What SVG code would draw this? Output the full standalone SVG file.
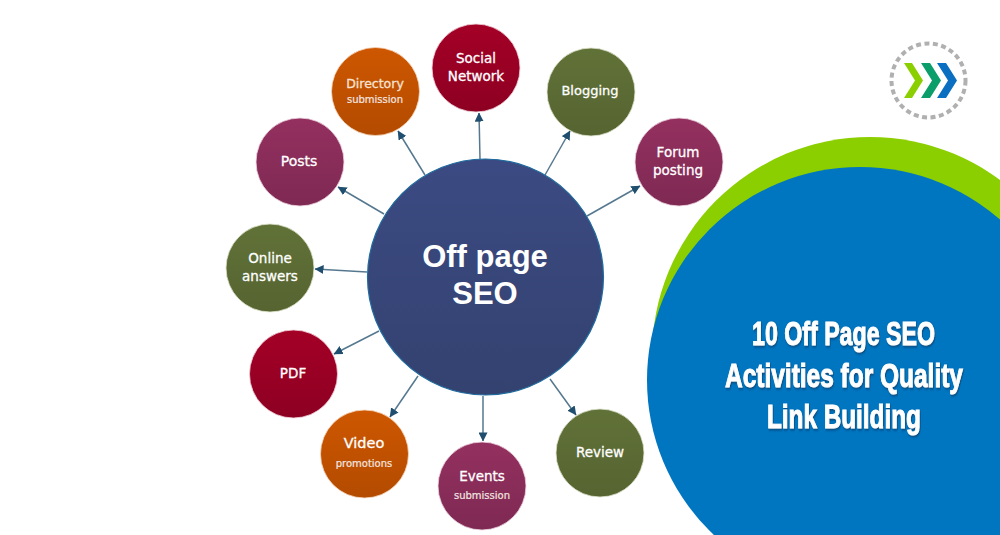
<svg xmlns="http://www.w3.org/2000/svg" width="1000" height="535" viewBox="0 0 1000 535">
<style>
.n{stroke-width:.8}
.l{font-family:"DejaVu Sans","Open Sans",sans-serif;font-weight:400;fill:#fff;stroke:#fff;stroke-width:.3;text-anchor:middle;font-size:13.5px}
.s{font-size:10px;fill:#f3e6e0;stroke:#f3e6e0;stroke-width:.2}
.c{stroke:#55788f;stroke-width:1.5;fill:none;marker-end:url(#a)}
.t{font-family:"Liberation Sans",sans-serif;font-weight:700;fill:#fff;stroke:#fff;stroke-width:1;font-size:34px;filter:url(#sh)}
</style>
<defs>
<marker id="a" viewBox="0 0 10 10" refX="9.5" refY="5" markerWidth="9" markerHeight="9" markerUnits="userSpaceOnUse" orient="auto"><path d="M0 0L10 5L0 10Z" fill="#1f4e6e"/></marker>
<linearGradient id="gr" x1="0" y1="0" x2="0" y2="1"><stop offset="0" stop-color="#a40026"/><stop offset="1" stop-color="#8d0022"/></linearGradient>
<linearGradient id="go" x1="0" y1="0" x2="0" y2="1"><stop offset="0" stop-color="#ce5700"/><stop offset="1" stop-color="#b34b00"/></linearGradient>
<linearGradient id="gp" x1="0" y1="0" x2="0" y2="1"><stop offset="0" stop-color="#94305f"/><stop offset="1" stop-color="#7e2953"/></linearGradient>
<linearGradient id="gg" x1="0" y1="0" x2="0" y2="1"><stop offset="0" stop-color="#617238"/><stop offset="1" stop-color="#566431"/></linearGradient>
<linearGradient id="gb" x1="0" y1="0" x2="0" y2="1"><stop offset="0" stop-color="#3b4a82"/><stop offset="1" stop-color="#344270"/></linearGradient>
<filter id="sh" x="-5%" y="-20%" width="110%" height="140%"><feDropShadow dx="1" dy="1.5" stdDeviation="0.8" flood-color="#0a3a63" flood-opacity=".8"/></filter>
</defs>
<rect width="1000" height="535" fill="#fff"/>
<g id="decor">
<circle cx="870" cy="355" r="218" fill="#8ccf00"/>
<circle cx="860" cy="380" r="213" fill="#0075c0"/>
</g>
<g id="logo">
<circle cx="928.5" cy="80.5" r="37" fill="none" stroke="#b0b0b0" stroke-width="4" stroke-dasharray="5 3.5"/>
<polygon points="904,63 912,63 923,80.5 912,98 904,98 915,80.5" fill="#8ccf00"/>
<polygon points="921,63 930,63 941,80.5 930,98 921,98 932,80.5" fill="#0b9e6a"/>
<polygon points="937,63 946,63 957,80.5 946,98 937,98 948,80.5" fill="#0a6fc0"/>
</g>
<g id="connectors">
<line class="c" x1="480" y1="159" x2="479" y2="113"/>
<line class="c" x1="425" y1="175" x2="398" y2="131"/>
<line class="c" x1="384" y1="214" x2="338" y2="187"/>
<line class="c" x1="367" y1="272" x2="315" y2="269"/>
<line class="c" x1="379" y1="331" x2="334" y2="354"/>
<line class="c" x1="418" y1="376" x2="390" y2="417"/>
<line class="c" x1="483" y1="396" x2="483" y2="441"/>
<line class="c" x1="550" y1="379" x2="576" y2="415"/>
<line class="c" x1="587" y1="216" x2="640" y2="186"/>
<line class="c" x1="545" y1="175" x2="570" y2="131"/>
</g>
<g id="center"><circle cx="485.5" cy="277" r="118" fill="url(#gb)" stroke="#1f6c9e" stroke-width="1.2"/>
<text x="485" y="267" font-family="Liberation Sans, sans-serif" font-weight="700" font-size="31" fill="#fff" text-anchor="middle">Off page</text>
<text x="485" y="304" font-family="Liberation Sans, sans-serif" font-weight="700" font-size="31" fill="#fff" text-anchor="middle">SEO</text></g>
<g id="social"><circle class="n" cx="476" cy="68" r="44" fill="url(#gr)" stroke="#f0d0d8"/><text class="l" x="476" y="63">Social</text><text class="l" x="476" y="81">Network</text></g>
<g id="directory"><circle class="n" cx="375.5" cy="91.5" r="44" fill="url(#go)" stroke="#f5d8c0"/><text class="l" x="375" y="88" style="font-size:12.5px;fill:#f6e2d4;stroke:#f6e2d4">Directory</text><text class="l s" x="375" y="103">submission</text></g>
<g id="posts"><circle class="n" cx="300" cy="162" r="44" fill="url(#gp)" stroke="#ecd4e0"/><text class="l" x="299" y="166" style="font-size:14px">Posts</text></g>
<g id="online"><circle class="n" cx="270" cy="268" r="44" fill="url(#gg)" stroke="#dde2cc"/><text class="l" x="270" y="263">Online</text><text class="l" x="270" y="281">answers</text></g>
<g id="pdf"><circle class="n" cx="293.5" cy="374" r="44" fill="url(#gr)" stroke="#f0d0d8"/><text class="l" x="293" y="378">PDF</text></g>
<g id="video"><circle class="n" cx="364.5" cy="454" r="44" fill="url(#go)" stroke="#f5d8c0"/><text class="l" x="364" y="448" style="font-size:14.5px">Video</text><text class="l s" x="364" y="467">promotions</text></g>
<g id="events"><circle class="n" cx="482" cy="486" r="44" fill="url(#gp)" stroke="#ecd4e0"/><text class="l" x="482" y="481">Events</text><text class="l s" x="482" y="499">submission</text></g>
<g id="review"><circle class="n" cx="600" cy="453" r="44" fill="url(#gg)" stroke="#dde2cc"/><text class="l" x="600" y="457">Review</text></g>
<g id="forum"><circle class="n" cx="679" cy="162" r="44" fill="url(#gp)" stroke="#ecd4e0"/><text class="l" x="678" y="157">Forum</text><text class="l" x="678" y="175">posting</text></g>
<g id="blogging"><circle class="n" cx="591" cy="92" r="44" fill="url(#gg)" stroke="#dde2cc"/><text class="l" x="590" y="95" style="font-size:13px">Blogging</text></g>
<g id="title">
<text class="t" transform="translate(752 345) scale(.682 1)">10 Off Page SEO</text>
<text class="t" transform="translate(725 387) scale(.72 1)">Activities for Quality</text>
<text class="t" transform="translate(767 428) scale(.715 1)">Link Building</text>
</g>
</svg>
